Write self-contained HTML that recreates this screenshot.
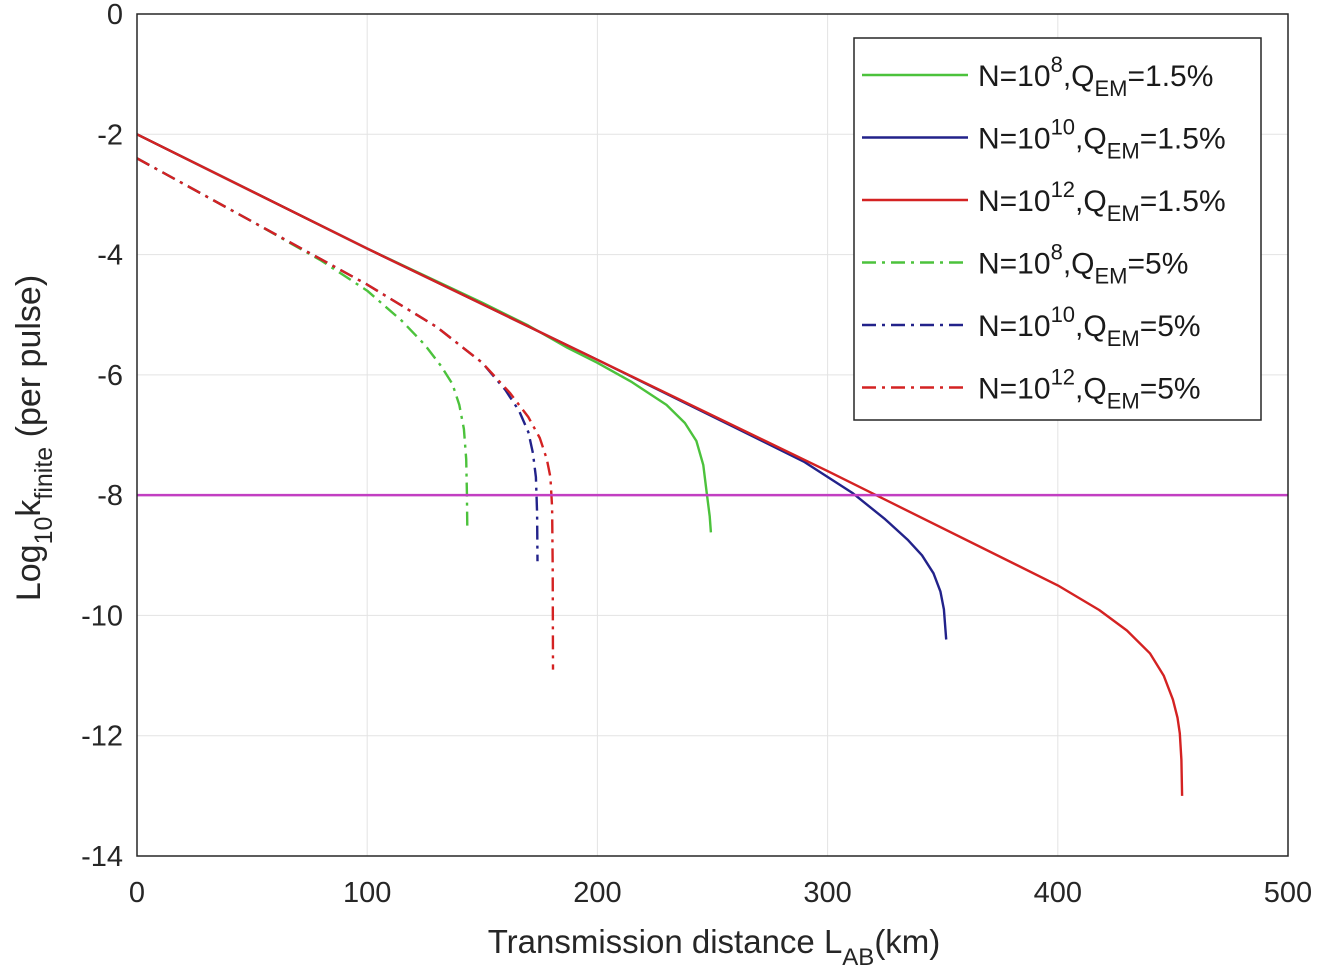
<!DOCTYPE html>
<html><head><meta charset="utf-8"><style>
html,body{margin:0;padding:0;background:#fff;}
svg{display:block;font-family:"Liberation Sans",Arial,sans-serif;}
</style></head><body>
<svg id="chart" width="1318" height="979" viewBox="0 0 1318 979" xmlns="http://www.w3.org/2000/svg">
<g id="grid"></g>
<g id="series"></g>
<rect x="137" y="14" width="1151" height="842" fill="none" stroke="#262626" stroke-width="1.5"/>
<g id="ticks"></g>
<text x="714" y="953" font-size="33" text-anchor="middle" fill="#262626">Transmission distance L<tspan font-size="24" dy="12">AB</tspan><tspan dy="-12">(km)</tspan></text>
<text transform="translate(40,438) rotate(-90)" font-size="34" text-anchor="middle" fill="#262626">Log<tspan font-size="25" dy="12">10</tspan><tspan dy="-12">k</tspan><tspan font-size="25" dy="12">finite</tspan><tspan dy="-12"> (per pulse)</tspan></text>
<g id="legend">
<rect x="854" y="38" width="407" height="382" fill="#fff" stroke="#262626" stroke-width="1.5"/>
</g>
</svg>
<script>
const xTicks=[0,100,200,300,400,500];
const yTicks=[0,-2,-4,-6,-8,-10,-12,-14];
const threshold=-8;
const g8x=[0,100,150,170,187,200,215,230,238,243,246,247.5,248.8,249.3];
const g8y=[-2,-3.9,-4.8,-5.18,-5.55,-5.8,-6.12,-6.5,-6.8,-7.1,-7.5,-7.96,-8.35,-8.62];
const b10x=[0,100,200,260,290,311,325,335,341,346,349,350.5,351.5];
const b10y=[-2,-3.9,-5.75,-6.88,-7.45,-7.97,-8.4,-8.75,-9.0,-9.3,-9.6,-9.9,-10.4];
const r12x=[0,100,200,300,400,418,430,440,446,450,452,453,453.7,454];
const r12y=[-2,-3.9,-5.75,-7.6,-9.5,-9.91,-10.25,-10.63,-11.0,-11.4,-11.7,-11.96,-12.4,-13.0];
const g8dx=[0,50,80,100,115,125,132,137,140,142,143,143.3,143.5];
const g8dy=[-2.4,-3.45,-4.1,-4.6,-5.1,-5.5,-5.85,-6.15,-6.5,-6.9,-7.4,-7.96,-8.55];
const b10dx=[0,50,100,130,150,160,166,170,172,173.3,173.8,174];
const b10dy=[-2.4,-3.45,-4.5,-5.2,-5.8,-6.25,-6.6,-6.95,-7.3,-7.7,-8.3,-9.1];
const r12dx=[0,50,100,130,150,162,170,175,178,179.6,180.3,180.6,180.7];
const r12dy=[-2.4,-3.45,-4.5,-5.2,-5.8,-6.3,-6.7,-7.05,-7.4,-7.7,-8.2,-9.2,-10.9];
const legendLabels=[["8","1.5%"],["10","1.5%"],["12","1.5%"],["8","5%"],["10","5%"],["12","5%"]];

const NS="http://www.w3.org/2000/svg";
const X0=137,X1=1288,Y0=14,Y1=856;
const sx=v=>X0+(v-0)/(500-0)*(X1-X0);
const sy=v=>Y0+(0-v)/(0-(-14))*(Y1-Y0);
function el(t,a,p){const e=document.createElementNS(NS,t);for(const k in a)e.setAttribute(k,a[k]);p.appendChild(e);return e;}
const grid=document.getElementById('grid'),ticks=document.getElementById('ticks'),ser=document.getElementById('series'),leg=document.getElementById('legend');
xTicks.forEach(v=>{
 const l=el('line',{x1:sx(v),x2:sx(v),y1:Y0,y2:Y1,stroke:'#e3e3e3','stroke-width':1},grid);
 
 
 const t=el('text',{x:sx(v),y:Y1+46,'font-size':29,'text-anchor':'middle',fill:'#262626'},ticks);
 t.textContent=v;
 
 
});
yTicks.forEach(v=>{
 const l=el('line',{x1:X0,x2:X1,y1:sy(v),y2:sy(v),stroke:'#e3e3e3','stroke-width':1},grid);
 
 
 const t=el('text',{x:X0-14,y:sy(v)+10,'font-size':29,'text-anchor':'end',fill:'#262626'},ticks);
 t.textContent=v;
 
 
});
const GREEN='#4cc23c',BLUE='#22228a',RED='#d42222',DD='14 6 3 6';
const specs=[
 [g8dx,g8dy,GREEN,DD,'series-n8-q5'],[b10dx,b10dy,BLUE,DD,'series-n10-q5'],[r12dx,r12dy,RED,DD,'series-n12-q5'],
 [g8x,g8y,GREEN,'','series-n8-q1-5'],[b10x,b10y,BLUE,'','series-n10-q1-5'],[r12x,r12y,RED,'','series-n12-q1-5']];
specs.forEach(s=>{
 const d=s[0].map((x,i)=>(i?'L':'M')+sx(x).toFixed(1)+','+sy(s[1][i]).toFixed(1)).join(' ');
 const p=el('path',{d:d,fill:'none',stroke:s[2],'stroke-width':2.4,'stroke-linejoin':'round','stroke-dasharray':s[3]||'none'},ser);
 
 
});
const th=el('line',{x1:X0,x2:X1,y1:sy(threshold),y2:sy(threshold),stroke:'#c23fc2','stroke-width':2.5},ser);


const legCols=[GREEN,BLUE,RED,GREEN,BLUE,RED];
legendLabels.forEach((lb,i)=>{
 const y=75+i*62.5;
 const l=el('line',{x1:862,x2:968,y1:y,y2:y,stroke:legCols[i],'stroke-width':2.4,'stroke-dasharray':i>=3?DD:'none'},leg);
 
 
 const t=el('text',{x:978,y:y+11,'font-size':30,fill:'#1a1a1a'},leg);
 t.innerHTML='N=10<tspan font-size="22" dy="-14">'+lb[0]+'</tspan><tspan dy="14">,Q</tspan><tspan font-size="22" dy="10">EM</tspan><tspan dy="-10">='+lb[1]+'</tspan>';
 
 
});
</script>
</body></html>
